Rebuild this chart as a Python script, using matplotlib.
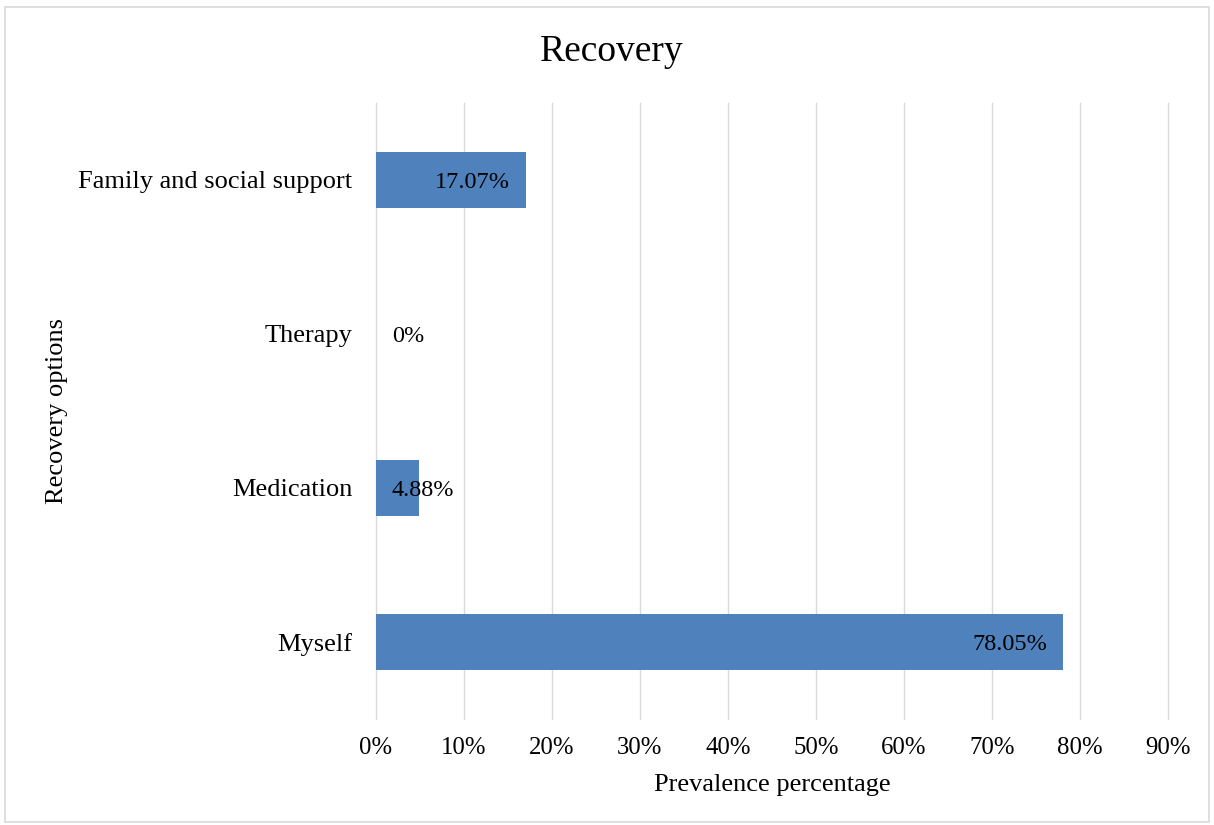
import matplotlib.pyplot as plt
from matplotlib.patches import Rectangle
from matplotlib.ticker import PercentFormatter

categories = ["Myself", "Medication", "Therapy", "Family and social support"]
values = [78.05, 4.88, 0.0, 17.07]
value_labels = ["78.05%", "4.88%", "0%", "17.07%"]
xticks = [0, 10, 20, 30, 40, 50, 60, 70, 80, 90]

plt.rcParams['font.family'] = ['Liberation Serif', 'DejaVu Serif']

fig = plt.figure(figsize=(12.14, 8.25), dpi=100)
ax = fig.add_axes([0.3097, 0.1285, 0.6524, 0.7467])

# light frame around the whole chart
fig.patches.append(Rectangle((0.004, 0.004), 0.992, 0.988, transform=fig.transFigure,
                             fill=False, edgecolor='#d9d9d9', linewidth=1.2))

ypos = list(range(len(categories)))
ax.barh(ypos, values, height=0.36, color='#4f81bd', linewidth=0, zorder=2)

for y, v, lab in zip(ypos, values, value_labels):
    if v < 10:
        ax.annotate(lab, (0, y), xytext=(11.5, 0), textcoords='offset points',
                    ha='left', va='center_baseline', fontsize=17.5, zorder=3)
    else:
        ax.annotate(lab, (v, y), xytext=(-11.5, 0), textcoords='offset points',
                    ha='right', va='center_baseline', fontsize=17.5, zorder=3)

ax.set_xlim(0, 90)
ax.set_ylim(-0.5, 3.5)
ax.set_xticks(xticks)
ax.xaxis.set_major_formatter(PercentFormatter(decimals=0))
ax.set_yticks(ypos)
ax.set_yticklabels(categories)
ax.tick_params(axis='x', length=0, pad=13, labelsize=17.8)
ax.tick_params(axis='y', length=0, pad=17, labelsize=19)
ax.grid(axis='x', color='#d9d9d9', linewidth=1.0, zorder=0)
for gl in ax.get_xgridlines():
    gl.set_clip_on(False)
ax.set_axisbelow(True)
for s in ax.spines.values():
    s.set_visible(False)

ax.set_xlabel("Prevalence percentage", fontsize=19, labelpad=11)
ax.set_ylabel("Recovery options", fontsize=19)
ax.yaxis.set_label_coords(-0.389, 0.5)
fig.text(0.504, 0.937, "Recovery", ha='center', va='center', fontsize=27)

fig.savefig('out.png', dpi=100)
